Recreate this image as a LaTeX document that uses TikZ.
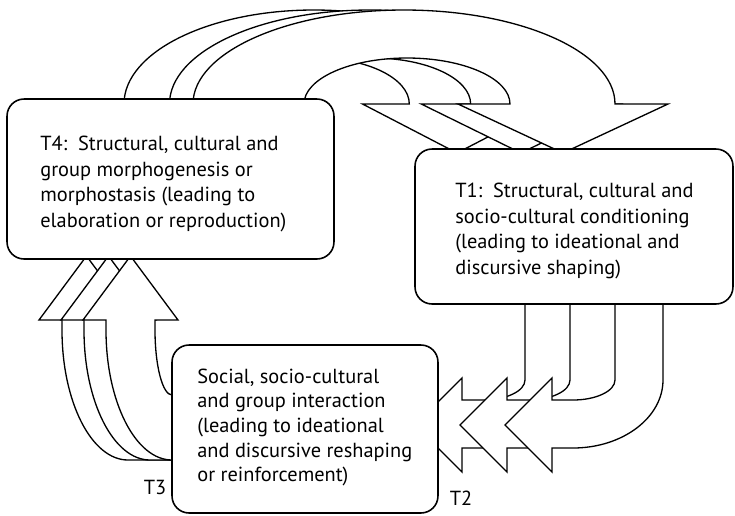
\documentclass[tikz,border=0pt]{standalone}
\usepackage{fontspec}
\setmainfont{PT Sans}
\usetikzlibrary{calc}

\tikzset{
  stage/.style={draw, line width=0.9pt, fill=white, rounded corners=0.34cm},
  stagetext/.style={anchor=west, inner sep=0pt, align=left,
    font=\fontsize{11.6}{14.6}\selectfont},
  bigarrow/.style={draw, line width=0.75pt, fill=white, line join=miter},
  phase/.style={font=\fontsize{11.6}{13}\selectfont}
}

\begin{document}
\begin{tikzpicture}[x=0.02cm, y=-0.02cm]
  \useasboundingbox (0,0) rectangle (735,515);
  % T4 -> T1: three arcs over the top, the back ones a bit narrower
  \foreach \ax/\sc in {457/0.9, 521/0.95, 563/1}{
    \begin{scope}[shift={(\ax,104)}, xscale=\sc]
      \draw[bigarrow] (-370,15) -- (-370,0)
        arc[start angle=180, end angle=360, x radius=211, y radius=94]
        -- (105,0) -- (0,49) -- (-105,0) -- (-53,0)
        arc[start angle=0, end angle=-180, x radius=103, y radius=46]
        -- (-259,15) -- cycle;
    \end{scope}
  }
  % T1 -> interaction: down and to the left
  \foreach \dx in {-90,-45,0}{
    \begin{scope}[shift={(\dx,0)}]
      \draw[bigarrow] (615,290) -- (615,380)
        arc[start angle=0, end angle=90, x radius=42, y radius=20]
        -- (552,400) -- (552,378) -- (505,425) -- (552,472) -- (552,448) -- (573,448)
        arc[start angle=90, end angle=0, x radius=90, y radius=68]
        -- (663,290) -- cycle;
    \end{scope}
  }
  % interaction -> T4: left and up
  \foreach \dx in {-44,-22,0}{
    \begin{scope}[shift={(\dx,0)}]
      \draw[bigarrow] (232,460) -- (172,460)
        arc[start angle=90, end angle=180, x radius=66, y radius=130]
        -- (106,320) -- (83,320) -- (130.5,256) -- (178,320) -- (155,320) -- (155,330)
        arc[start angle=180, end angle=90, x radius=17, y radius=65]
        -- (232,395) -- cycle;
    \end{scope}
  }
  % the three stages
  \node[stage, minimum width=6.54cm, minimum height=3.2cm] (morph) at (170.5,179) {};
  \node[stage, minimum width=6.36cm, minimum height=3.1cm] (cond) at (574,226.5) {};
  \node[stage, minimum width=5.32cm, minimum height=3.36cm] (inter) at (305,429) {};
  \node[stagetext] (morphtext) at (40,184)
    {T4:\ \ Structural, cultural and\\group morphogenesis or\\morphostasis (leading to\\elaboration or reproduction)};
  \node[stagetext] (condtext) at (455,231)
    {T1:\ \ Structural, cultural and\\socio-cultural conditioning\\(leading to ideational and\\discursive shaping)};
  \node[stagetext, font=\fontsize{11.6}{14}\selectfont] (intertext) at (197,427.5)
    {Social, socio-cultural\\and group interaction\\(leading to ideational\\and discursive reshaping\\or reinforcement)};
  \node[phase] (tthree) at (155,487) {T3};
  \node[phase] (ttwo) at (461,498) {T2};
\end{tikzpicture}
\end{document}
